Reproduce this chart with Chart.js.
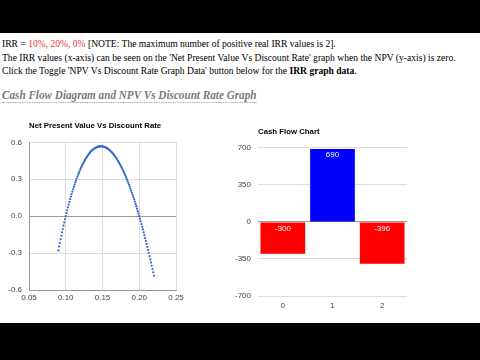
<!DOCTYPE html>
<html><head><meta charset="utf-8">
<script src="https://cdn.jsdelivr.net/npm/chart.js@4/dist/chart.umd.min.js"></script>
<style>
html,body{margin:0;padding:0;background:#fff;width:480px;height:360px;overflow:hidden;position:relative}
.blk{position:absolute;left:0;width:480px;background:#000}
.txt{position:absolute;left:2px;font-family:"Liberation Serif","Times New Roman",serif;font-size:11px;line-height:13px;color:#000;white-space:nowrap;transform-origin:0 0;transform:scaleX(0.87)}
.red{color:#e3342f}
.head{position:absolute;left:2px;top:87px;font-family:"Liberation Serif","Times New Roman",serif;font-size:13px;line-height:15px;font-weight:bold;font-style:italic;color:#7a7a7a;white-space:nowrap;border-bottom:1px dotted #999;transform-origin:0 0;transform:scaleX(0.86)}
canvas{position:absolute}
</style></head>
<body>
<div class="blk" style="top:0;height:33px"></div>
<div class="blk" style="top:323px;height:37px"></div>
<div class="txt" style="top:37px">IRR = <span class="red">10%, 20%, 0%</span> [NOTE: The maximum number of positive real IRR values is 2].</div>
<div class="txt" style="top:51px">The IRR values (x-axis) can be seen on the 'Net Present Value Vs Discount Rate' graph when the NPV (y-axis) is zero.</div>
<div class="txt" style="top:64px">Click the Toggle 'NPV Vs Discount Rate Graph Data' button below for the <b>IRR graph data</b>.</div>
<div class="head">Cash Flow Diagram and NPV Vs Discount Rate Graph</div>
<canvas id="npv" width="225" height="200" style="left:0;top:110px"></canvas>
<canvas id="cf" width="255" height="210" style="left:225px;top:110px"></canvas>
<script>
// ---- data ----
const rates = [
0.090,0.091,0.092,0.093,0.094,0.095,0.096,0.097,0.098,0.099,
0.100,0.101,0.102,0.103,0.104,0.105,0.106,0.107,0.108,0.109,
0.110,0.111,0.112,0.113,0.114,0.115,0.116,0.117,0.118,0.119,
0.120,0.121,0.122,0.123,0.124,0.125,0.126,0.127,0.128,0.129,
0.130,0.131,0.132,0.133,0.134,0.135,0.136,0.137,0.138,0.139,
0.140,0.141,0.142,0.143,0.144,0.145,0.146,0.147,0.148,0.149,
0.150,0.151,0.152,0.153,0.154,0.155,0.156,0.157,0.158,0.159,
0.160,0.161,0.162,0.163,0.164,0.165,0.166,0.167,0.168,0.169,
0.170,0.171,0.172,0.173,0.174,0.175,0.176,0.177,0.178,0.179,
0.180,0.181,0.182,0.183,0.184,0.185,0.186,0.187,0.188,0.189,
0.190,0.191,0.192,0.193,0.194,0.195,0.196,0.197,0.198,0.199,
0.200,0.201,0.202,0.203,0.204,0.205,0.206,0.207,0.208,0.209,
0.210,0.211,0.212,0.213,0.214,0.215,0.216,0.217,0.218,0.219,
0.220];
const npvValues = [
-0.278,-0.247,-0.217,-0.188,-0.159,-0.131,-0.104,-0.077,-0.051,-0.025,
0.000,0.025,0.048,0.072,0.095,0.117,0.138,0.159,0.180,0.200,
0.219,0.238,0.256,0.274,0.291,0.308,0.324,0.339,0.354,0.369,
0.383,0.396,0.409,0.421,0.433,0.444,0.455,0.466,0.475,0.485,
0.493,0.502,0.509,0.517,0.524,0.530,0.536,0.541,0.546,0.550,
0.554,0.557,0.560,0.563,0.565,0.566,0.567,0.568,0.568,0.568,
0.567,0.566,0.564,0.562,0.560,0.557,0.553,0.549,0.545,0.540,
0.535,0.529,0.523,0.517,0.510,0.503,0.495,0.487,0.479,0.470,
0.460,0.450,0.440,0.430,0.419,0.407,0.396,0.384,0.371,0.358,
0.345,0.331,0.317,0.302,0.288,0.272,0.257,0.241,0.224,0.208,
0.191,0.173,0.155,0.137,0.119,0.100,0.081,0.061,0.041,0.021,
0.000,-0.021,-0.042,-0.064,-0.086,-0.108,-0.131,-0.154,-0.178,-0.201,
-0.225,-0.250,-0.274,-0.300,-0.325,-0.351,-0.377,-0.403,-0.430,-0.456,
-0.484];
const rateTicks = [0.05, 0.10, 0.15, 0.20, 0.25];
const npvTicks = [-0.6, -0.3, 0, 0.3, 0.6];
const periods = ['0', '1', '2'];
const cashFlows = [-300, 690, -396];
const cashTicks = [-700, -350, 0, 350, 700];

// ---- charts ----
const FONT = '"Liberation Sans", Arial, sans-serif';
Chart.defaults.font.family = FONT;
Chart.defaults.font.size = 8;
Chart.defaults.color = '#444';
Chart.defaults.animation = false;

function setTicks(arr){ return function(scale){ scale.ticks = arr.map(v => ({value: v})); }; }

new Chart(document.getElementById('npv'), {
  type: 'scatter',
  data: { datasets: [{
    data: rates.map((r, i) => ({x: r, y: npvValues[i]})),
    backgroundColor: '#3366cc', borderColor: '#3366cc',
    pointRadius: 1.1, pointBorderWidth: 0, showLine: false
  }]},
  options: {
    responsive: false, devicePixelRatio: 1,
    layout: { padding: {left: 0, right: 49, top: 0, bottom: 0} },
    plugins: {
      legend: {display: false}, tooltip: {enabled: false},
      title: { display: true, text: 'Net Present Value Vs Discount Rate', align: 'start', fullSize: false,
        color: '#000', font: {size: 7.8, weight: 'bold', family: FONT}, padding: {top: 11, bottom: 12} }
    },
    scales: {
      x: { type: 'linear', min: 0.05, max: 0.25, afterBuildTicks: setTicks(rateTicks),
        afterFit(s){ s.height = 20; },
        grid: { color: '#dcdcdc', drawTicks: false },
        border: { color: '#999' },
        ticks: { padding: 3, callback: v => v.toFixed(2) } },
      y: { min: -0.6, max: 0.6, afterBuildTicks: setTicks(npvTicks),
        afterFit(s){ s.width = 29; },
        grid: { color: c => (c.tick && c.tick.value === 0) ? '#999' : '#dcdcdc', drawTicks: false },
        border: { color: '#999' },
        ticks: { padding: 7, callback: v => v.toFixed(1) } }
    }
  }
});

const barLabels = {
  id: 'barLabels',
  afterDatasetsDraw(chart){
    const ctx = chart.ctx, meta = chart.getDatasetMeta(0);
    ctx.save();
    ctx.fillStyle = '#fff'; ctx.font = '8px ' + FONT; ctx.textAlign = 'center'; ctx.textBaseline = 'top';
    meta.data.forEach((bar, i) => {
      const top = Math.min(bar.y, bar.base);
      ctx.fillText(String(cashFlows[i]), bar.x, top + 2);
    });
    ctx.restore();
  }
};

new Chart(document.getElementById('cf'), {
  type: 'bar',
  data: { labels: periods, datasets: [{
    data: cashFlows,
    backgroundColor: cashFlows.map(v => v < 0 ? '#ff0000' : '#0000ff'),
    borderWidth: 0, categoryPercentage: 1.0, barPercentage: 0.9
  }]},
  plugins: [barLabels],
  options: {
    responsive: false, devicePixelRatio: 1,
    layout: { padding: {left: 0, right: 73, top: 0, bottom: 0} },
    plugins: {
      legend: {display: false}, tooltip: {enabled: false},
      title: { display: true, text: 'Cash Flow Chart', align: 'start', fullSize: false,
        color: '#000', font: {size: 7.8, weight: 'bold', family: FONT}, padding: {top: 17, bottom: 11.5} }
    },
    scales: {
      x: { afterFit(s){ s.height = 24; },
        grid: { display: false, drawTicks: false }, border: { display: false },
        ticks: { padding: 5 } },
      y: { min: -700, max: 700, afterBuildTicks: setTicks(cashTicks),
        afterFit(s){ s.width = 33; },
        grid: { color: c => (c.tick && c.tick.value === 0) ? '#999' : '#dcdcdc', drawTicks: false },
        border: { display: false },
        ticks: { padding: 7, callback: v => String(v) } }
    }
  }
});
</script>
</body></html>
